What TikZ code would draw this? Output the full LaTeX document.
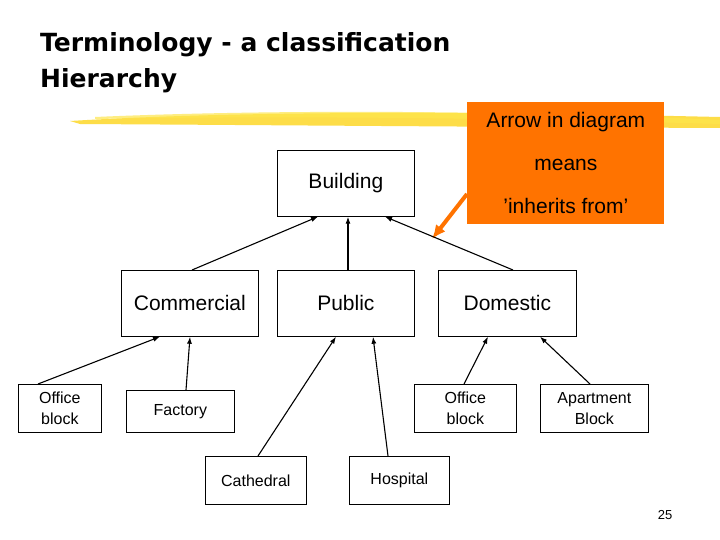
\documentclass[tikz,border=0pt]{standalone}
\usepackage{fontspec}
\setmainfont{Liberation Sans}
\newfontfamily\titlefont{DejaVu Sans}
\usetikzlibrary{arrows.meta}
\begin{document}
\begin{tikzpicture}[x=1pt,y=-1pt,
  box/.style={draw,line width=0.7pt,inner sep=0pt,anchor=north west},
  arr/.style={-{Latex[length=7pt,width=5pt]},line width=1.1pt}]
\useasboundingbox (0,0) rectangle (720,540);
\fill[white] (0,0) rectangle (720,540);
% yellow stroke
\fill[yellow!70!orange!85,opacity=0.85] (70,121) .. controls (250,110) and (500,112) .. (720,117) -- (720,128) .. controls (500,127) and (250,125) .. (80,124) -- cycle;
\fill[yellow!80!orange!70,opacity=0.7] (95,117) .. controls (300,108) and (550,112) .. (720,120) -- (720,124) .. controls (550,119) and (300,115) .. (95,119) -- cycle;
\node[anchor=north west,align=left,inner sep=0pt,font=\titlefont\bfseries\fontsize{25}{36}\selectfont] (title) at (40,32) {Terminology - a classification\\Hierarchy};
% orange box
\node[box,draw=none,fill=orange!90!red,minimum width=197pt,minimum height=122pt,
 font=\fontsize{21}{43}\selectfont,align=center] (note) at (467,102) {Arrow in diagram\\means\\\char"2019inherits from\char"2019};
\coordinate (ntip) at (432,239);
\draw[-{Latex[length=14pt,width=12pt]},line width=4pt,orange!90!red] (467,194) -- (ntip);
% boxes
\begin{scope}[font=\fontsize{21}{24}\selectfont]
\node[box,minimum width=137pt,minimum height=66pt] (bld) at (277,150) {Building};
\node[box,minimum width=137pt,minimum height=66pt] (com) at (121,270) {Commercial};
\node[box,minimum width=137pt,minimum height=66pt] (pub) at (277,270) {Public};
\node[box,minimum width=138pt,minimum height=66pt] (dom) at (438,270) {Domestic};
\end{scope}
\begin{scope}[font=\fontsize{16}{21}\selectfont]
\node[box,minimum width=83pt,minimum height=48pt,align=center] (ob1) at (18,384) {Office\\block};
\node[box,minimum width=108pt,minimum height=42pt] (fac) at (126,390) {Factory};
\node[box,minimum width=101pt,minimum height=48pt] (cat) at (205,456) {Cathedral};
\node[box,minimum width=100pt,minimum height=48pt] (hos) at (349,456) {Hospital};
\node[box,minimum width=102pt,minimum height=48pt,align=center] (ob2) at (414,384) {Office\\block};
\node[box,minimum width=108pt,minimum height=48pt,align=center] (apt) at (540,384) {Apartment\\Block};
\end{scope}
\draw[arr] (com.north west) ++(71,0) -- ([xshift=41pt]bld.south west);
\draw[arr] (pub.north west) ++(71,0) -- ([xshift=71pt]bld.south west);
\draw[arr] (dom.north west) ++(75,0) -- ([xshift=108pt]bld.south west);
\draw[arr] (ob1.north west) ++(20,0) -- ([xshift=39pt]com.south west);
\draw[arr] (fac.north west) ++(60,0) -- ([xshift=69pt]com.south west);
\draw[arr] (cat.north west) ++(53,0) -- ([xshift=59pt]pub.south west);
\draw[arr] (hos.north west) ++(39,0) -- ([xshift=96pt]pub.south west);
\draw[arr] (ob2.north west) ++(50,0) -- ([xshift=50pt]dom.south west);
\draw[arr] (apt.north west) ++(50,0) -- ([xshift=102pt]dom.south west);
\node[font=\fontsize{13}{15}\selectfont] (pg) at (665,515) {25};
\end{tikzpicture}
\end{document}
